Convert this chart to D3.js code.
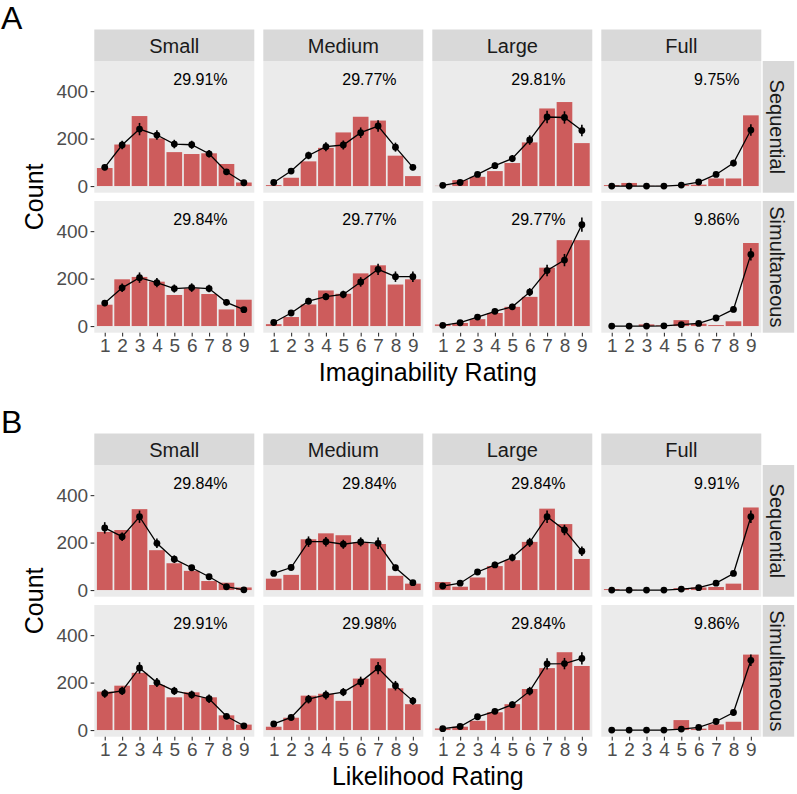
<!DOCTYPE html>
<html>
<head>
<meta charset="utf-8">
<script src="https://cdn.jsdelivr.net/npm/d3@7"></script>
<style>
  body { margin: 0; background: #fff; }
  svg text { font-family: "Liberation Sans", Arial, Helvetica, sans-serif; }
</style>
</head>
<body>
<svg id="chart" width="797" height="794"></svg>
<script>

// Facets and rating levels
var sizes = ["Small", "Medium", "Large", "Full"];
var modes = ["Sequential", "Simultaneous"];
var ratings = [1, 2, 3, 4, 5, 6, 7, 8, 9];

// A: Imaginability, sequential (one row per size)
var imagSeqCount = [
  [76, 175, 295, 201, 143, 135, 138, 93, 15],
  [4, 35, 104, 161, 226, 292, 276, 128, 42],
  [1, 25, 39, 63, 97, 184, 327, 354, 181],
  [4, 13, 1, 1, 4, 6, 32, 32, 298]
];
var imagSeqMean = [
  [79, 173, 240, 215, 177, 174, 136, 60, 14],
  [15, 63, 129, 166, 173, 225, 253, 164, 79],
  [3, 15, 49, 86, 116, 194, 291, 289, 234],
  [0, 0, 0, 0, 4, 17, 49, 97, 236]
];
var imagSeqErr = [
  [12, 18, 26, 20, 18, 17, 16, 11, 5],
  [5, 11, 16, 19, 19, 22, 24, 19, 12],
  [2, 5, 10, 13, 15, 20, 26, 26, 24],
  [0, 0, 0, 1, 2, 5, 10, 14, 24]
];
var imagSeqPct = ["29.91%", "29.77%", "29.81%", "9.75%"];

// A: Imaginability, simultaneous
var imagSimCount = [
  [90, 197, 207, 187, 131, 159, 135, 70, 111],
  [8, 38, 91, 150, 136, 222, 256, 175, 197],
  [7, 13, 29, 55, 81, 123, 246, 362, 362],
  [0, 0, 7, 3, 25, 10, 4, 20, 350]
];
var imagSimMean = [
  [97, 161, 204, 183, 158, 162, 158, 100, 69],
  [15, 55, 105, 124, 133, 186, 239, 208, 208],
  [3, 14, 38, 62, 81, 143, 234, 278, 427],
  [0, 0, 0, 1, 6, 11, 34, 70, 302]
];
var imagSimErr = [
  [13, 18, 22, 19, 17, 18, 16, 13, 9],
  [5, 9, 14, 15, 16, 20, 24, 22, 22],
  [2, 4, 9, 11, 13, 17, 24, 26, 30],
  [0, 0, 0, 1, 2, 4, 8, 12, 26]
];
var imagSimPct = ["29.84%", "29.77%", "29.77%", "9.86%"];

// B: Likelihood, sequential
var likeSeqCount = [
  [245, 253, 341, 168, 113, 81, 38, 31, 11],
  [48, 64, 214, 239, 231, 201, 194, 60, 27],
  [34, 14, 53, 101, 126, 203, 343, 278, 131],
  [4, 1, 0, 0, 8, 11, 13, 27, 348]
];
var likeSeqMean = [
  [262, 225, 309, 197, 130, 94, 56, 14, 1],
  [70, 95, 204, 204, 193, 203, 197, 94, 31],
  [17, 29, 76, 106, 137, 201, 309, 253, 164],
  [0, 0, 0, 0, 4, 10, 29, 70, 309]
];
var likeSeqErr = [
  [24, 18, 26, 20, 16, 12, 9, 4, 1],
  [9, 12, 22, 20, 19, 19, 24, 13, 7],
  [5, 6, 12, 13, 16, 19, 26, 22, 20],
  [0, 0, 0, 0, 2, 3, 6, 10, 26]
];
var likeSeqPct = ["29.84%", "29.84%", "29.84%", "9.91%"];

// B: Likelihood, simultaneous
var likeSimCount = [
  [162, 187, 241, 190, 138, 159, 138, 62, 23],
  [14, 52, 145, 153, 123, 217, 302, 176, 109],
  [7, 14, 39, 75, 109, 173, 261, 328, 270],
  [0, 0, 0, 0, 42, 6, 24, 35, 318]
];
var likeSimMean = [
  [154, 165, 262, 200, 165, 149, 132, 58, 18],
  [26, 53, 130, 148, 160, 203, 261, 187, 123],
  [6, 15, 56, 79, 107, 164, 279, 280, 302],
  [0, 0, 0, 0, 4, 11, 36, 74, 294]
];
var likeSimErr = [
  [18, 17, 24, 19, 17, 17, 18, 10, 4],
  [6, 9, 18, 19, 17, 22, 26, 20, 16],
  [2, 4, 9, 11, 14, 18, 24, 24, 26],
  [0, 0, 0, 0, 2, 3, 7, 11, 24]
];
var likeSimPct = ["29.91%", "29.98%", "29.84%", "9.86%"];

var yTicks = [0, 200, 400];

// Layout
var svg = d3.select("#chart");
var panelW = 160, panelH = 131.7, stripH = 31.5;
var panelX = [94.3, 263.3, 432.3, 601.3];
var rowGap = 8.3;
var red = "#CD5C5C";

var x = d3.scaleLinear().domain([0.4, 9.6]).range([0, panelW]);
var y = d3.scaleLinear().domain([-28, 527]).range([panelH, 0]);

function DrawFigure(offY, letter, title, rows) {

  // Figure letter
  svg.append("text").attr("x", 1).attr("y", offY + 29)
    .style("font-size", "32px").attr("fill", "#000").text(letter);

  var topY = offY + 29.5 + stripH;

  // Column strips
  sizes.forEach(function(s, i) {
    var g = svg.append("g").attr("transform", "translate(" + panelX[i] + "," + (offY + 29.5) + ")");
    g.append("rect").attr("width", panelW).attr("height", stripH).attr("fill", "#D9D9D9");
    g.append("text").attr("x", panelW / 2).attr("y", stripH / 2 + 1)
      .attr("text-anchor", "middle").attr("dominant-baseline", "central")
      .style("font-size", "20px").attr("fill", "#1A1A1A").text(s);
  });

  rows.forEach(function(row, r) {
    var py = topY + r * (panelH + rowGap);

    // Row strip on the right
    var sg = svg.append("g").attr("transform", "translate(" + (panelX[3] + panelW + 1.4) + "," + py + ")");
    sg.append("rect").attr("width", stripH).attr("height", panelH).attr("fill", "#D9D9D9");
    sg.append("text").attr("transform", "translate(" + (stripH / 2 - 1) + "," + (panelH / 2) + ") rotate(90)")
      .attr("text-anchor", "middle").attr("dominant-baseline", "central")
      .style("font-size", "20px").attr("fill", "#1A1A1A").text(modes[r]);

    sizes.forEach(function(s, i) {
      var g = svg.append("g").attr("transform", "translate(" + panelX[i] + "," + py + ")");
      g.append("rect").attr("width", panelW).attr("height", panelH).attr("fill", "#EBEBEB");

      var counts = row.count[i], means = row.mean[i], errs = row.err[i];

      // Bars
      g.selectAll("rect.bar").data(ratings).enter().append("rect")
        .attr("class", "bar")
        .attr("x", function(d) { return x(d - 0.45); })
        .attr("width", x(0.9) - x(0))
        .attr("y", function(d, k) { return y(counts[k]); })
        .attr("height", function(d, k) { return y(0) - y(counts[k]); })
        .attr("fill", red);

      // Mean line
      var line = d3.line()
        .x(function(d) { return x(d); })
        .y(function(d, k) { return y(means[k]); });
      g.append("path").datum(ratings).attr("d", line)
        .attr("fill", "none").attr("stroke", "#000").attr("stroke-width", 1.3);

      // Error bars
      g.selectAll("line.err").data(ratings).enter().append("line")
        .attr("class", "err")
        .attr("x1", function(d) { return x(d); })
        .attr("x2", function(d) { return x(d); })
        .attr("y1", function(d, k) { return y(means[k] - errs[k]); })
        .attr("y2", function(d, k) { return y(means[k] + errs[k]); })
        .attr("stroke", "#000").attr("stroke-width", 1.6);

      // Points
      g.selectAll("circle").data(ratings).enter().append("circle")
        .attr("cx", function(d) { return x(d); })
        .attr("cy", function(d, k) { return y(means[k]); })
        .attr("r", 3.4).attr("fill", "#000");

      // Percentage label
      g.append("text").attr("x", x(i === 3 ? 7.04 : 6.5)).attr("y", y(450))
        .attr("text-anchor", "middle").attr("dominant-baseline", "central")
        .style("font-size", "16px").attr("fill", "#000").text(row.pct[i]);

      // Y axis on first column
      if (i === 0) {
        var ya = g.append("g").call(d3.axisLeft(y).tickValues(yTicks).tickSize(3.7).tickPadding(2.5));
        ya.select(".domain").remove();
        ya.selectAll("line").attr("stroke", "#333").attr("stroke-width", 1.1);
        ya.selectAll("text").style("font-size", "19px").attr("fill", "#4D4D4D")
          .style("font-family", "'Liberation Sans', Arial, sans-serif");
      }

      // X axis on bottom row
      if (r === rows.length - 1) {
        var xa = g.append("g").attr("transform", "translate(0," + panelH + ")")
          .call(d3.axisBottom(x).tickValues(ratings).tickSize(3.7).tickPadding(2.5));
        xa.select(".domain").remove();
        xa.selectAll("line").attr("stroke", "#333").attr("stroke-width", 1.1);
        xa.selectAll("text").style("font-size", "19px").attr("fill", "#4D4D4D")
          .style("font-family", "'Liberation Sans', Arial, sans-serif");
      }
    });
  });

  // Axis titles
  var bottom = topY + 2 * panelH + rowGap;
  svg.append("text").attr("x", panelX[0] + (panelX[3] + panelW - panelX[0]) / 2).attr("y", bottom + 48)
    .attr("text-anchor", "middle").style("font-size", "25px").attr("fill", "#000").text(title);

  svg.append("text").attr("transform", "translate(43," + (topY + panelH + rowGap / 2) + ") rotate(-90)")
    .attr("text-anchor", "middle").style("font-size", "25px").attr("fill", "#000").text("Count");
}

DrawFigure(0, "A", "Imaginability Rating", [
  { count: imagSeqCount, mean: imagSeqMean, err: imagSeqErr, pct: imagSeqPct },
  { count: imagSimCount, mean: imagSimMean, err: imagSimErr, pct: imagSimPct }
]);

DrawFigure(404, "B", "Likelihood Rating", [
  { count: likeSeqCount, mean: likeSeqMean, err: likeSeqErr, pct: likeSeqPct },
  { count: likeSimCount, mean: likeSimMean, err: likeSimErr, pct: likeSimPct }
]);

</script>
</body>
</html>
